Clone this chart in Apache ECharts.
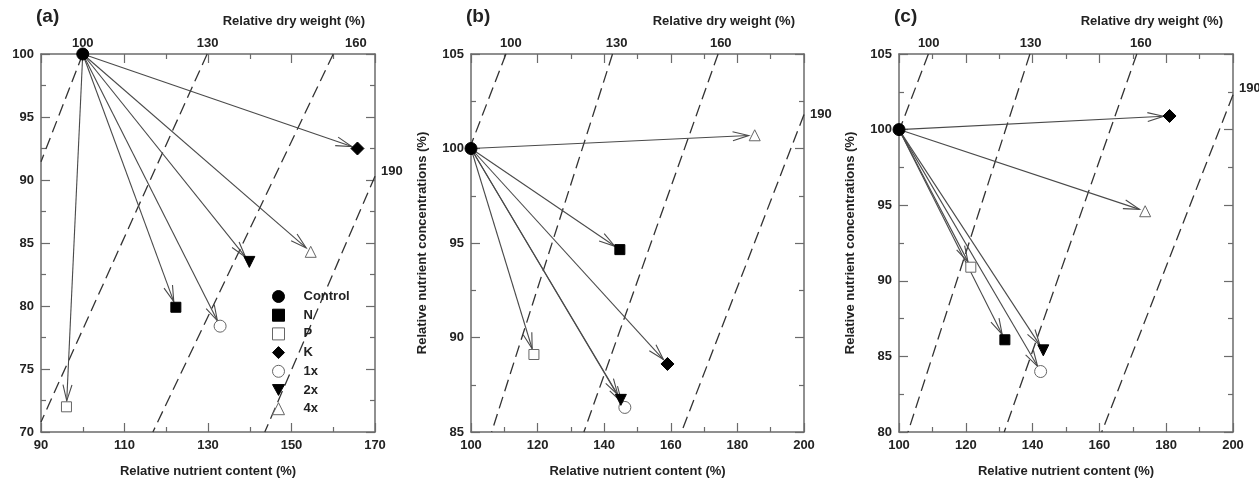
<!DOCTYPE html>
<html>
<head>
<meta charset="utf-8">
<script src="https://cdn.jsdelivr.net/npm/echarts@6/dist/echarts.min.js"></script>
<style>
  html, body { margin: 0; padding: 0; background: #fff; }
  #chart { width: 1259px; height: 483px; }
</style>
</head>
<body>
<div id="chart"></div>
<script>
// treatments (same order in every panel)
var names = ['Control', 'N', 'P', 'K', '1x', '2x', '4x'];

// (a) relative nutrient content / concentration (%)
var contentA = [100, 122.3, 96.1, 165.8, 132.9, 139.9, 154.6];
var concA = [100, 79.9, 72.0, 92.5, 78.4, 83.5, 84.3];
// (b)
var contentB = [100, 144.7, 118.9, 159.0, 146.2, 145.0, 185.2];
var concB = [100, 94.65, 89.1, 88.6, 86.3, 86.7, 100.7];
// (c)
var contentC = [100, 131.7, 121.5, 181.0, 142.4, 143.2, 173.7];
var concC = [100, 86.1, 90.9, 100.9, 84.0, 85.4, 94.6];

// axis ranges: [min, max, step]
var xRangeA = [90, 170, 20], yRangeA = [70, 100, 5];
var xRangeB = [100, 200, 20], yRangeB = [85, 105, 5];
var xRangeC = [100, 200, 20], yRangeC = [80, 105, 5];

// relative dry weight isolines: [x1, y1, x2, y2] and where their label sits [x, y]
var dwLabels = ['100', '130', '160', '190'];
var dwLinesA = [[100, 100, 90, 91.45], [129.8, 100, 90, 70.8], [160, 100, 116.8, 70], [170, 90.3, 143.6, 70]];
var dwLabelAtA = [[100, 100], [129.9, 100], [165.4, 100], [170, 90.66]];
var dwLinesB = [[110.5, 105, 100, 100.2], [142.5, 105, 106.2, 85], [174.2, 105, 133.9, 85], [200, 101.8, 163.2, 85]];
var dwLabelAtB = [[112, 105], [143.7, 105], [175, 105], [200, 101.8]];
var dwLinesC = [[108.8, 105, 100, 99.9], [139.2, 105, 102.7, 80], [171.2, 105, 131.5, 80], [200, 102.3, 160.7, 80]];
var dwLabelAtC = [[108.9, 105], [139.4, 105], [172.4, 105], [200, 102.7]];

var FONT = '"Liberation Sans", Arial, sans-serif';
var TXT = '#222';
var AX = '#6b6b6b';

var markers = {
  'Control': { symbol: 'circle', size: 12, color: '#000', border: '#000' },
  'N': { symbol: 'rect', size: 10, color: '#000', border: '#000' },
  'P': { symbol: 'rect', size: 10, color: '#fff', border: '#666' },
  'K': { symbol: 'diamond', size: 13, color: '#000', border: '#000' },
  '1x': { symbol: 'circle', size: 12, color: '#fff', border: '#666' },
  '2x': { symbol: 'path://M0,0L10,0L5,9Z', size: 11, color: '#000', border: '#000' },
  '4x': { symbol: 'triangle', size: 11, color: '#fff', border: '#666' }
};

var chart = echarts.init(document.getElementById('chart'));

var grids = [
  { left: 41, top: 54, width: 334, height: 382 },
  { left: 471, top: 54, width: 333, height: 382 },
  { left: 899, top: 54, width: 334, height: 382 }
];

function axisBase (range, showLabel, pos) {
  return {
    type: 'value',
    position: pos,
    min: range[0],
    max: range[1],
    interval: range[2],
    axisLine: { onZero: false, lineStyle: { color: AX, width: 1.5 } },
    axisTick: { inside: true, length: 9, lineStyle: { color: AX, width: 1.2 } },
    minorTick: { show: true, splitNumber: 2, length: 5, lineStyle: { color: AX, width: 1.2 } },
    splitLine: { show: false },
    axisLabel: {
      show: showLabel,
      color: TXT,
      fontFamily: FONT,
      fontWeight: 'bold',
      fontSize: 13,
      margin: 7
    }
  };
}

var xAxes = [], yAxes = [];
var xr = [xRangeA, xRangeB, xRangeC];
var yr = [yRangeA, yRangeB, yRangeC];
for (var p = 0; p < 3; p++) {
  var xb = axisBase(xr[p], true, 'bottom');
  xb.gridIndex = p;
  xb.name = 'Relative nutrient content (%)';
  xb.nameLocation = 'middle';
  xb.nameGap = 33;
  xb.nameTextStyle = { color: TXT, fontFamily: FONT, fontWeight: 'bold', fontSize: 13 };
  var xt = axisBase(xr[p], false, 'top');
  xt.gridIndex = p;
  xAxes.push(xb, xt);

  var yl = axisBase(yr[p], true, 'left');
  yl.gridIndex = p;
  if (p > 0) {
    yl.name = 'Relative nutrient concentrations (%)';
    yl.nameLocation = 'middle';
    yl.nameGap = 42;
    yl.nameTextStyle = { color: TXT, fontFamily: FONT, fontWeight: 'bold', fontSize: 13 };
  }
  var yrt = axisBase(yr[p], false, 'right');
  yrt.gridIndex = p;
  yAxes.push(yl, yrt);
}

function dwSeries (p, lines, labelAt, yMax) {
  return {
    type: 'custom',
    xAxisIndex: 2 * p,
    yAxisIndex: 2 * p,
    silent: true,
    z: 1,
    data: lines.map(function (l, i) { return l.concat(labelAt[i]); }),
    renderItem: function (params, api) {
      var a = api.coord([api.value(0), api.value(1)]);
      var b = api.coord([api.value(2), api.value(3)]);
      var lp = api.coord([api.value(4), api.value(5)]);
      var atTop = api.value(5) >= yMax;
      return {
        type: 'group',
        children: [
          {
            type: 'line',
            shape: { x1: a[0], y1: a[1], x2: b[0], y2: b[1] },
            style: { stroke: '#333', lineWidth: 1.3, lineDash: [12, 6] }
          },
          {
            type: 'text',
            x: atTop ? lp[0] : lp[0] + 6,
            y: atTop ? lp[1] - 11 : lp[1],
            style: {
              text: dwLabels[params.dataIndex],
              fill: TXT,
              font: 'bold 13px ' + FONT,
              align: atTop ? 'center' : 'left',
              verticalAlign: 'middle'
            }
          }
        ]
      };
    }
  };
}

function arrowSeries (p, xs, ys) {
  var data = [];
  for (var i = 1; i < xs.length; i++) data.push([xs[0], ys[0], xs[i], ys[i]]);
  return {
    type: 'custom',
    xAxisIndex: 2 * p,
    yAxisIndex: 2 * p,
    silent: true,
    z: 3,
    data: data,
    renderItem: function (params, api) {
      var a = api.coord([api.value(0), api.value(1)]);
      var b = api.coord([api.value(2), api.value(3)]);
      var dx = b[0] - a[0], dy = b[1] - a[1];
      var len = Math.sqrt(dx * dx + dy * dy);
      var ux = dx / len, uy = dy / len;
      var tip = [b[0] - ux * 6, b[1] - uy * 6];
      var back = [tip[0] - ux * 16, tip[1] - uy * 16];
      var nx = -uy * 4.5, ny = ux * 4.5;
      return {
        type: 'group',
        children: [
          {
            type: 'line',
            shape: { x1: a[0], y1: a[1], x2: tip[0], y2: tip[1] },
            style: { stroke: '#4a4a4a', lineWidth: 1.1 }
          },
          {
            type: 'polyline',
            shape: { points: [[back[0] + nx, back[1] + ny], tip, [back[0] - nx, back[1] - ny]] },
            style: { stroke: '#4a4a4a', lineWidth: 1.1, fill: null }
          }
        ]
      };
    }
  };
}

var series = [
  dwSeries(0, dwLinesA, dwLabelAtA, yRangeA[1]),
  dwSeries(1, dwLinesB, dwLabelAtB, yRangeB[1]),
  dwSeries(2, dwLinesC, dwLabelAtC, yRangeC[1]),
  arrowSeries(0, contentA, concA),
  arrowSeries(1, contentB, concB),
  arrowSeries(2, contentC, concC)
];

var panels = [[contentA, concA], [contentB, concB], [contentC, concC]];
panels.forEach(function (pd, p) {
  names.forEach(function (n, i) {
    var m = markers[n];
    series.push({
      type: 'scatter',
      name: n,
      xAxisIndex: 2 * p,
      yAxisIndex: 2 * p,
      z: 5,
      symbol: m.symbol,
      symbolSize: m.size,
      itemStyle: { color: m.color, borderColor: m.border, borderWidth: 1, opacity: 1 },
      data: [[pd[0][i], pd[1][i]]]
    });
  });
});

var titleStyle = { color: TXT, fontFamily: FONT, fontWeight: 'bold', fontSize: 13 };
var panelStyle = { color: TXT, fontFamily: FONT, fontWeight: 'bold', fontSize: 19 };

chart.setOption({
  animation: false,
  backgroundColor: '#fff',
  title: [
    { text: '(a)', left: 36, top: 7, padding: 0, textStyle: panelStyle },
    { text: '(b)', left: 466, top: 7, padding: 0, textStyle: panelStyle },
    { text: '(c)', left: 894, top: 7, padding: 0, textStyle: panelStyle },
    { text: 'Relative dry weight (%)', right: 894, top: 15, padding: 0, textStyle: titleStyle },
    { text: 'Relative dry weight (%)', right: 464, top: 15, padding: 0, textStyle: titleStyle },
    { text: 'Relative dry weight (%)', right: 36, top: 15, padding: 0, textStyle: titleStyle }
  ],
  legend: {
    data: names,
    orient: 'vertical',
    left: 272,
    top: 290,
    padding: 0,
    itemWidth: 12,
    itemHeight: 12,
    itemGap: 5.7,
    symbolKeepAspect: true,
    selectedMode: false,
    itemStyle: { borderWidth: 1 },
    textStyle: {
      color: TXT, fontFamily: FONT, fontWeight: 'bold', fontSize: 13,
      padding: [0, 0, 0, 14]
    }
  },
  grid: grids,
  xAxis: xAxes,
  yAxis: yAxes,
  series: series
});
</script>
</body>
</html>
